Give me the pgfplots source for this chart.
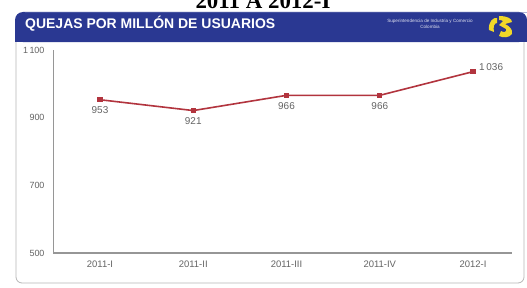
\documentclass[border=0pt]{standalone}
\usepackage{pgfplots}
\pgfplotsset{compat=1.18}
\usepackage{fontspec}
\setmainfont{Liberation Sans}
\newfontfamily\serifb{Liberation Serif}
\definecolor{bannerblue}{RGB}{42,56,146}
\definecolor{linered}{RGB}{178,52,62}
\definecolor{labgray}{RGB}{100,100,100}
\definecolor{axgray}{RGB}{150,150,150}
\definecolor{logoyellow}{RGB}{240,215,40}
\begin{document}
\begin{tikzpicture}[x=1bp,y=1bp]
\useasboundingbox (0,0) rectangle (527,287);
\clip (0,0) rectangle (527,287);
% title (cut at top)
\node[anchor=base,font=\serifb\bfseries\fontsize{23}{23}\selectfont] at (263,278.5) {2011 A 2012-I};
% panel
\draw[axgray!70,line width=0.8bp,fill=white,rounded corners=6bp] (16,4) rectangle (524,270);
% banner
\fill[bannerblue,rounded corners=8bp] (15,245) -- (15,275) -- (527,275) -- (527,245) -- cycle;
\fill[bannerblue] (15,245) rectangle (527,262);
\fill[bannerblue!75!white,opacity=0.5] (25,273.5) rectangle (527,275);
\node[anchor=base west,text=white,inner sep=0pt] at (25,259) {\resizebox{250bp}{!}{\bfseries\fontsize{12.5}{12.5}\selectfont QUEJAS POR MILLÓN DE USUARIOS}};
\node[text=white!85!bannerblue,font=\fontsize{4.6}{5.6}\selectfont,align=center] at (430,263) {Superintendencia de Industria y Comercio\\Colombia};
% logo
\fill[logoyellow] (489,257) .. controls (488,266) and (494,270) .. (497,269) -- (497,264) .. controls (494,264) and (493,260) .. (494,255) -- cycle;
\fill[logoyellow] (499,271) .. controls (508,271) and (512,268) .. (512,265) -- (505,263) .. controls (509,261) and (513,258) .. (512,253) .. controls (509,249) and (503,249) .. (499,251) -- (501,256) .. controls (504,254) and (507,255) .. (506,258) -- (499,262) -- (503,266) .. controls (502,267) and (500,267) .. (499,267) -- cycle;
\begin{axis}[
  at={(53bp,34bp)}, anchor=south west,
  scale only axis, width=459bp, height=203bp,
  xmin=-0.504, xmax=4.418, ymin=500, ymax=1100,
  axis x line=bottom, axis y line=left,
  axis line style={axgray,line width=1bp,-},
  x axis line style={line width=1.6bp},
  xtick={0,1,2,3,4},
  xticklabels={2011-I,2011-II,2011-III,2011-IV,2012-I},
  ytick={500,700,900,1100},
  major tick length=0pt,
  /pgf/number format/1000 sep={\,},
  /pgf/number format/assume math mode=true,
  tick label style={text=labgray},
  yticklabel style={font=\fontsize{9}{10}\selectfont,xshift=-5bp},
  xticklabel style={font=\fontsize{9.5}{10}\selectfont,yshift=-4bp},
  clip=false,
  nodes near coords style={font=\fontsize{10}{11}\selectfont,text=labgray,inner sep=0pt},
]
\addplot[linered,line width=1.6bp,mark=square*,mark size=1.8bp,mark options={fill=linered}]
  coordinates {(0,953) (1,921) (2,966) (3,966) (4,1036)};
\addplot[draw=none,mark=none,nodes near coords,point meta=explicit symbolic,
  every node near coord/.append style={anchor=north,yshift=-7bp}]
  coordinates {(0,953)[953] (1,921)[921] (2,966)[966] (3,966)[966]};
\addplot[draw=none,mark=none,nodes near coords,point meta=explicit symbolic,
  every node near coord/.append style={anchor=south west,xshift=6bp,yshift=1bp}]
  coordinates {(4,1036)[1\,036]};
\end{axis}
\end{tikzpicture}
\end{document}
